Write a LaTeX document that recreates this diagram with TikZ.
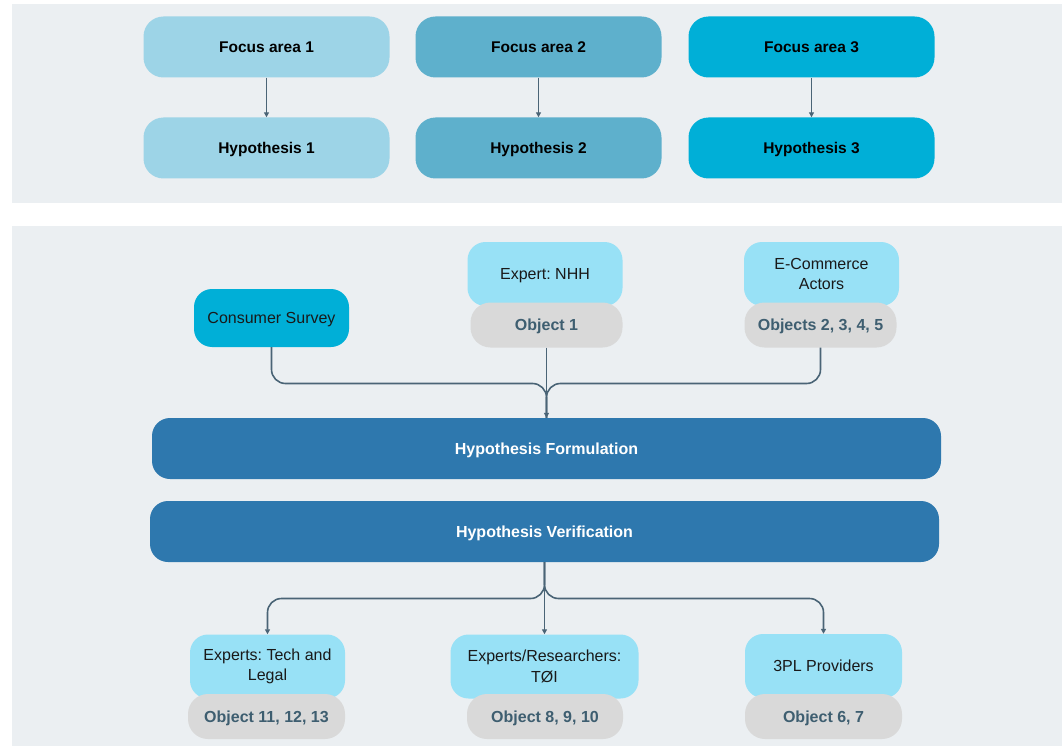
\documentclass[tikz,border=0pt]{standalone}
\usepackage{fontspec}
\setmainfont{Liberation Sans}
\usetikzlibrary{arrows.meta}
\definecolor{panel}{HTML}{EBEFF2}
\definecolor{areaA}{HTML}{9DD4E7}
\definecolor{areaB}{HTML}{5EB0CC}
\definecolor{areaC}{HTML}{00AFD7}
\definecolor{source}{HTML}{98E1F6}
\definecolor{objfill}{HTML}{D9D9D9}
\definecolor{objtext}{HTML}{3E5E70}
\definecolor{stage}{HTML}{2E78AE}
\definecolor{wire}{HTML}{4A6476}
\frenchspacing
\begin{document}
\begin{tikzpicture}[x=1pt,y=-1pt,
  base/.style={inner sep=0pt, align=center},
  oneline/.style={text height=11.5pt, text depth=0pt},
  focusbox/.style={base, oneline, rounded corners=20pt, minimum width=246pt, minimum height=61pt,
    font=\fontsize{15.5}{19}\selectfont\bfseries, text=black},
  stagebar/.style={base, oneline, rounded corners=18pt, fill=stage, minimum width=789pt, minimum height=61pt,
    font=\fontsize{16}{19}\selectfont\bfseries, text=white},
  srcbox/.style={base, rounded corners=18pt, fill=source, minimum height=64pt,
    font=\fontsize{16}{20.5}\selectfont, text=black!90},
  objbox/.style={base, oneline, rounded corners=20pt, fill=objfill, minimum height=45pt,
    font=\fontsize{16}{19}\selectfont\bfseries, text=objtext},
  conn/.style={draw=wire, line width=1.6pt},
  tip/.style={-{Triangle[length=5pt,width=5pt]}}
]
\useasboundingbox (0,0) rectangle (1062,746);
\fill[white] (0,0) rectangle (1062,746);
\fill[panel] (12,4) rectangle (1062,203);
\fill[panel] (12,226) rectangle (1062,746);

% focus areas and hypotheses
\node[focusbox, fill=areaA] (fa1) at (266.5,47) {Focus area 1};
\node[focusbox, fill=areaA] (hy1) at (266.5,148) {Hypothesis 1};
\node[focusbox, fill=areaB] (fa2) at (538.5,47) {Focus area 2};
\node[focusbox, fill=areaB] (hy2) at (538.5,148) {Hypothesis 2};
\node[focusbox, fill=areaC] (fa3) at (811.5,47) {Focus area 3};
\node[focusbox, fill=areaC] (hy3) at (811.5,148) {Hypothesis 3};
\draw[conn, tip] (fa1) -- (hy1);
\draw[conn, tip] (fa2) -- (hy2);
\draw[conn, tip] (fa3) -- (hy3);

% inputs to formulation
\node[srcbox, oneline, fill=areaC, minimum width=155pt, minimum height=58pt] (cs) at (271.5,318) {Consumer Survey};
\node[srcbox, oneline, minimum width=155pt] (nhh) at (545,274) {Expert: NHH};
\node[objbox, minimum width=152pt] (ob1) at (546.5,325) {Object 1};
\node[srcbox, minimum width=155pt] (eca) at (821.5,274) {E-Commerce\\Actors};
\node[objbox, minimum width=152pt] (ob2) at (820.5,325) {Objects 2, 3, 4, 5};

\node[stagebar] (hf) at (546.5,448.5) {Hypothesis Formulation};
\node[stagebar] (hv) at (544.5,531.5) {Hypothesis Verification};

\coordinate (mergeT) at (546.5,383.5);
\draw[conn, rounded corners=14pt] (cs.south) |- (mergeT) -- (hf.north);
\draw[conn, rounded corners=14pt] (ob2.south) |- (mergeT) -- (hf.north);
\draw[conn, tip] (ob1.south) -- (hf.north);

% verification targets
\node[srcbox, minimum width=155pt] (ex1) at (267.5,666.5) {Experts: Tech and\\Legal};
\node[objbox, minimum width=157pt] (ob11) at (266.5,716.5) {Object 11, 12, 13};
\node[srcbox, minimum width=188pt] (ex2) at (544.5,666.5) {Experts/Researchers:\\TØI};
\node[objbox, minimum width=156pt] (ob8) at (545,716.5) {Object 8, 9, 10};
\node[srcbox, oneline, minimum width=157pt] (ex3) at (823.5,666) {3PL Providers};
\node[objbox, minimum width=157pt] (ob6) at (823.5,716.5) {Object 6, 7};

\coordinate (mergeB) at (544.5,598.5);
\draw[conn, tip, rounded corners=14pt] (hv.south) -- (mergeB) -| (ex1.north);
\draw[conn, tip, rounded corners=14pt] (hv.south) -- (mergeB) -| (ex3.north);
\draw[conn, tip] (hv.south) -- (ex2.north);
\end{tikzpicture}
\end{document}
